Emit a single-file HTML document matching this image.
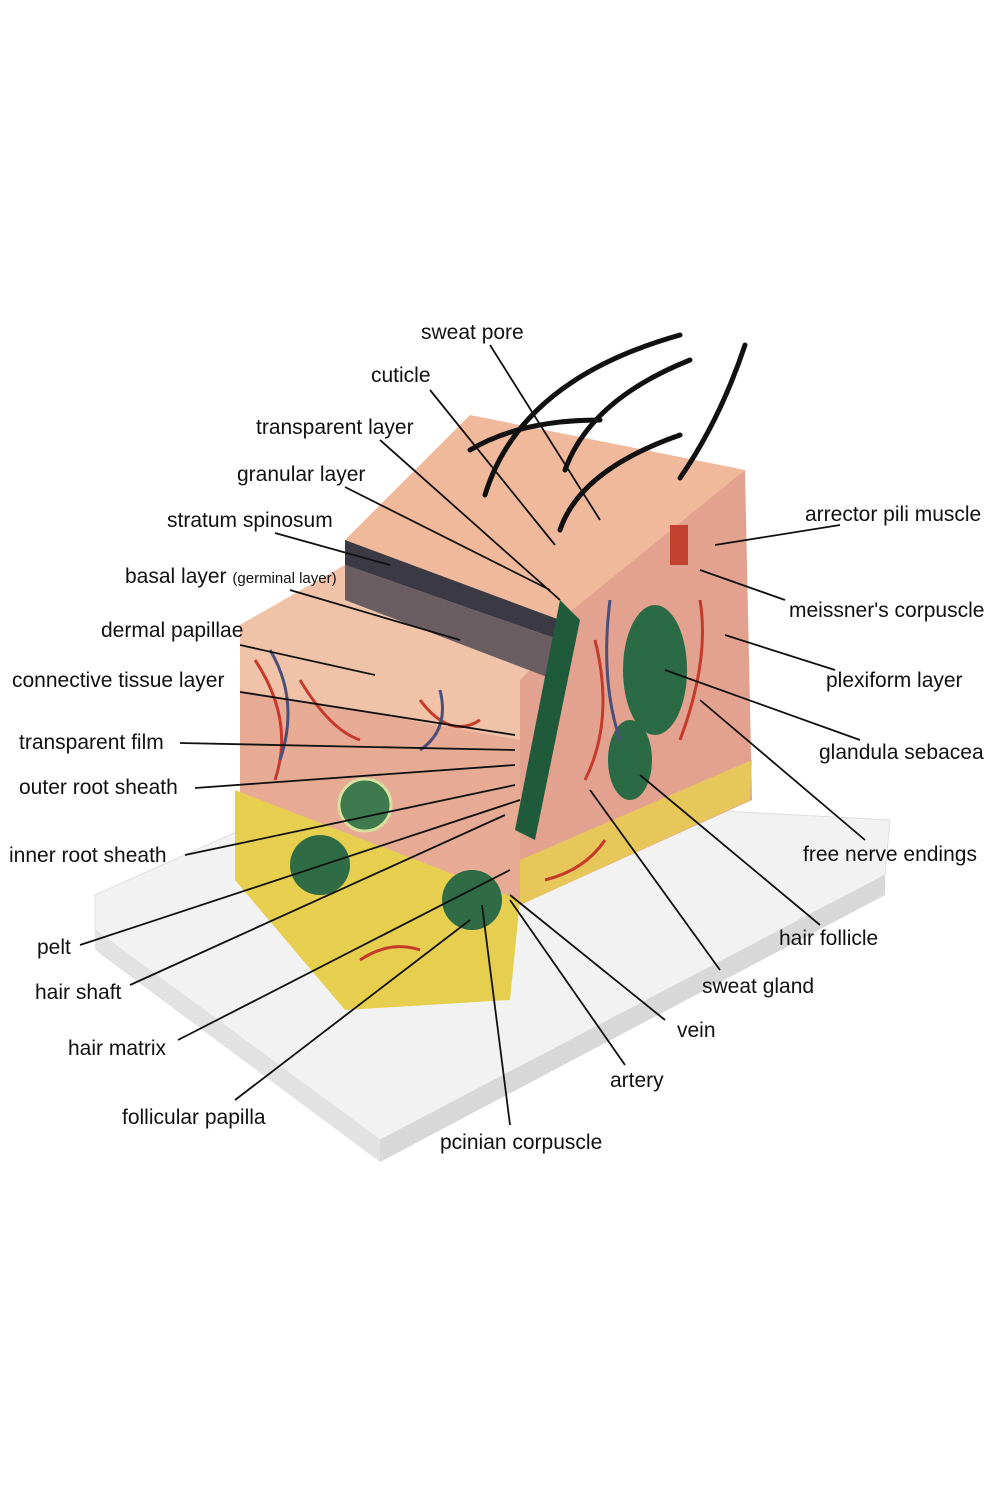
<!DOCTYPE html>
<html><head><meta charset="utf-8"><style>
html,body{margin:0;padding:0;background:#fff}
svg{display:block}
text{font-family:"Liberation Sans",sans-serif;font-size:21px;fill:#111}
</style></head><body>
<svg width="1000" height="1500" viewBox="0 0 1000 1500">
<!-- base plate -->
<polygon points="95,895 330,790 890,820 885,875 380,1140 95,930" fill="#f2f2f2" stroke="#ddd"/>
<polygon points="95,930 380,1140 380,1162 95,950" fill="#e2e2e2"/>
<polygon points="380,1140 885,875 885,895 380,1162" fill="#d8d8d8"/>
<!-- right face -->
<polygon points="555,600 745,470 752,800 520,905 520,680" fill="#e3a28f"/>
<polygon points="520,860 752,760 750,800 520,905" fill="#e8c75a"/>
<!-- front face dermis -->
<polygon points="240,625 345,565 560,640 520,680 520,905 240,800" fill="#e7aa95"/>
<polygon points="240,625 345,565 560,640 520,680 520,740 240,690" fill="#f0c3a9"/>
<!-- fat -->
<polygon points="235,790 520,900 510,1000 345,1010 235,880" fill="#e6cf4f"/>
<!-- top face -->
<polygon points="345,540 470,415 745,470 560,620" fill="#f1b99c"/>
<!-- epidermis cut band -->
<polygon points="345,540 560,620 560,640 345,565" fill="#3b3a44"/>
<polygon points="345,565 560,640 555,680 345,600" fill="#6a5e62"/>
<!-- follicle / gland -->
<path d="M560,600 L580,620 L535,840 L515,830 Z" fill="#1f5a3a"/>
<ellipse cx="655" cy="670" rx="32" ry="65" fill="#2a6a44"/>
<ellipse cx="630" cy="760" rx="22" ry="40" fill="#2a6a44"/>
<rect x="670" y="525" width="18" height="40" fill="#c2402e"/>
<!-- pacinian etc -->
<circle cx="320" cy="865" r="30" fill="#2f6b44"/>
<circle cx="472" cy="900" r="30" fill="#2f6b44"/>
<circle cx="365" cy="805" r="26" fill="#3e7a4e" stroke="#d8e0a0" stroke-width="3"/>
<!-- vessels -->
<g stroke="#c53a2a" stroke-width="3" fill="none">
<path d="M255,660 q40,60 20,120 M300,680 q30,50 60,60 M420,700 q30,40 60,20 M595,640 q20,80 -10,140 M700,600 q10,60 -20,140 M545,880 q40,-10 60,-40 M360,960 q30,-20 60,-10"/>
</g>
<g stroke="#4a4f7a" stroke-width="3" fill="none">
<path d="M270,650 q30,50 10,110 M440,690 q10,40 -20,60 M610,600 q-10,80 10,140"/>
</g>
<!-- hairs -->
<g stroke="#111" stroke-width="5" fill="none" stroke-linecap="round">
<path d="M485,495 Q520,380 680,335"/>
<path d="M565,470 Q590,400 690,360"/>
<path d="M560,530 Q580,470 680,435"/>
<path d="M680,478 Q720,420 745,345"/>
<path d="M470,450 Q520,420 600,420"/>
</g>
<!-- leader lines -->
<g stroke="#111" stroke-width="1.8">
<line x1="490" y1="345" x2="600" y2="520"/>
<line x1="430" y1="390" x2="555" y2="545"/>
<line x1="380" y1="440" x2="560" y2="600"/>
<line x1="345" y1="487" x2="550" y2="590"/>
<line x1="275" y1="533" x2="390" y2="565"/>
<line x1="290" y1="590" x2="460" y2="640"/>
<line x1="240" y1="645" x2="375" y2="675"/>
<line x1="240" y1="692" x2="515" y2="735"/>
<line x1="180" y1="743" x2="515" y2="750"/>
<line x1="195" y1="788" x2="515" y2="765"/>
<line x1="185" y1="855" x2="515" y2="785"/>
<line x1="80" y1="945" x2="520" y2="800"/>
<line x1="130" y1="985" x2="505" y2="815"/>
<line x1="178" y1="1040" x2="510" y2="870"/>
<line x1="235" y1="1100" x2="470" y2="920"/>
<line x1="510" y1="1125" x2="482" y2="905"/>
<line x1="625" y1="1065" x2="510" y2="900"/>
<line x1="665" y1="1020" x2="510" y2="895"/>
<line x1="720" y1="970" x2="590" y2="790"/>
<line x1="820" y1="925" x2="640" y2="775"/>
<line x1="865" y1="840" x2="700" y2="700"/>
<line x1="860" y1="740" x2="665" y2="670"/>
<line x1="835" y1="670" x2="725" y2="635"/>
<line x1="785" y1="600" x2="700" y2="570"/>
<line x1="840" y1="525" x2="715" y2="545"/>
</g>
<!-- labels -->
<text x="421" y="339">sweat pore</text>
<text x="371" y="382">cuticle</text>
<text x="256" y="434">transparent layer</text>
<text x="237" y="481">granular layer</text>
<text x="167" y="527">stratum spinosum</text>
<text x="125" y="583">basal layer <tspan font-size="15">(germinal layer)</tspan></text>
<text x="101" y="637">dermal papillae</text>
<text x="12" y="687">connective tissue layer</text>
<text x="19" y="749">transparent film</text>
<text x="19" y="794">outer root sheath</text>
<text x="9" y="862">inner root sheath</text>
<text x="37" y="954">pelt</text>
<text x="35" y="999">hair shaft</text>
<text x="68" y="1055">hair matrix</text>
<text x="122" y="1124">follicular papilla</text>
<text x="440" y="1149">pcinian corpuscle</text>
<text x="610" y="1087">artery</text>
<text x="677" y="1037">vein</text>
<text x="702" y="993">sweat gland</text>
<text x="779" y="945">hair follicle</text>
<text x="803" y="861">free nerve endings</text>
<text x="819" y="759">glandula sebacea</text>
<text x="826" y="687">plexiform layer</text>
<text x="789" y="617">meissner's corpuscle</text>
<text x="805" y="521">arrector pili muscle</text>
</svg>
</body></html>
